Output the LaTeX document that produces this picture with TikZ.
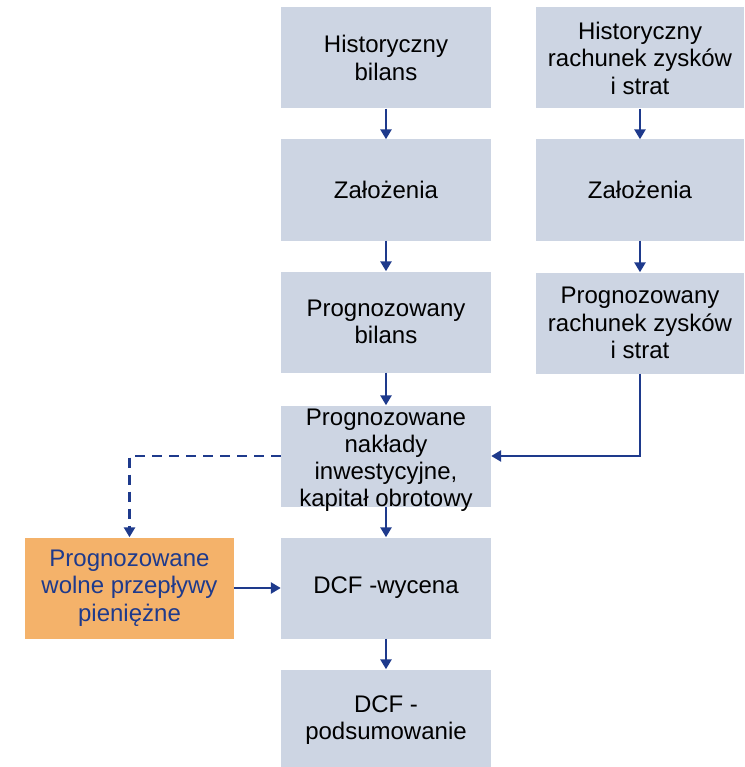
\documentclass[tikz,border=0pt]{standalone}
\usepackage{fontspec}
\setmainfont{Liberation Sans}
\usepackage{tikz}
\usetikzlibrary{arrows.meta}
\definecolor{boxblue}{HTML}{CDD5E3}
\definecolor{boxorange}{HTML}{F4B26A}
\definecolor{linkblue}{HTML}{1E3A8C}

\begin{document}
\begin{tikzpicture}[x=1pt, y=-1pt, >={Triangle[width=11pt,length=10pt]},
        stage/.style={fill=boxblue, minimum width=210pt, minimum height=101pt, inner sep=0pt,
            align=center, font=\fontsize{24}{27.5}\selectfont},
        result/.style={stage, fill=boxorange, text=linkblue, minimum width=209pt},
        link/.style={->, draw=linkblue, line width=2.7pt}]
        \useasboundingbox (0,0) rectangle (744,767);
        \node (hb) [stage] at (386,58) {Historyczny\\bilans};
        \node (z1) [stage] at (386,190) {Założenia};
        \node (pb) [stage] at (386,322) {Prognozowany\\bilans};
        \node (nk) [stage] at (386,456) {};
        \node (dcf) [stage] at (386,588) {DCF -wycena};
        \node (ps) [stage] at (386,720) {DCF -\\podsumowanie};
        \node (hr) [stage, minimum width=208pt] at (640,58) {Historyczny\\rachunek zysków\\i strat};
        \node (z2) [stage, minimum width=208pt] at (640,190) {Założenia};
        \node (pr) [stage, minimum width=208pt] at (640,323) {Prognozowany\\rachunek zysków\\i strat};
        \node (fcf) [result] at (129.5,588) {Prognozowane\\wolne przepływy\\pieniężne};
        \draw [link] (hb) to (z1);
        \draw [link] (z1) to (pb);
        \draw [link] (pb) to (nk);
        \draw [link] (nk) to (dcf);
        \draw [link] (dcf) to (ps);
        \draw [link] (hr) to (z2);
        \draw [link] (z2) to (pr);
        \draw [link] (pr.south) |- (nk.east);
        \draw [link, dash pattern=on 10pt off 7pt] (nk.west) -| (fcf.north);
        \draw [link] (fcf) to (dcf);
        \node (nkt) [align=center, inner sep=0pt, font=\fontsize{24}{27}\selectfont] at (386,460)
            {Prognozowane\\nakłady\\inwestycyjne,\\kapitał obrotowy};
    \end{tikzpicture}
\end{document}
